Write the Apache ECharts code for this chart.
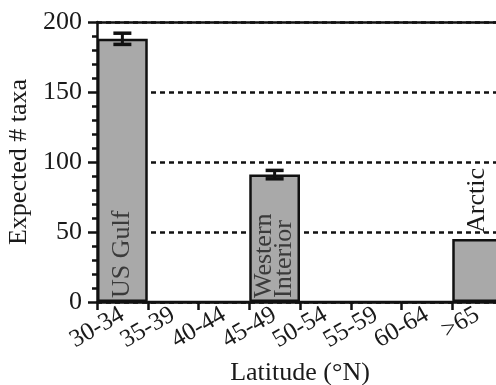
<!DOCTYPE html>
<html><head><meta charset="utf-8">
<script src="https://cdn.jsdelivr.net/npm/echarts@6/dist/echarts.min.js"></script>
<style>html,body{margin:0;padding:0;background:#fff}#c{width:496px;height:385px}</style>
</head><body><div id="c"></div>
<script>
const categories = ['30-34','35-39','40-44','45-49','50-54','55-59','60-64','>65'];
const values = [188,0,0,91,0,0,0,45];
const errors = [4,0,0,3,0,0,0,0];
const barLabels = ['US Gulf','','','Western\nInterior','','','','Arctic'];
const yTicks = [0,50,100,150,200];

const FONT = "'Liberation Serif','Times New Roman',serif";
const chart = echarts.init(document.getElementById('c'), null, {renderer:'canvas'});

const barData = values.map((v,i)=>{
  const d = {value:v};
  if (barLabels[i]) {
    const inside = v > 60;
    d.label = {
      show:true, formatter: barLabels[i], rotate:90,
      position: inside ? 'insideBottom' : 'top',
      distance: inside ? 4 : 6,
      align:'left', verticalAlign:'middle',
      fontFamily:FONT, fontSize:26, lineHeight:20,
      color: inside ? '#3a3a3a' : '#1a1a1a'
    };
  }
  return d;
});

const errData = values.map((v,i)=>[i, v, errors[i]]).filter(d=>d[2]>0);

chart.setOption({
  animation:false,
  grid:{left:97, top:22, bottom:83, right:-7, containLabel:false, outerBoundsMode:'none'},
  xAxis:[{
    type:'category', data:categories, boundaryGap:true,
    axisLine:{lineStyle:{color:'#111', width:2.5}},
    axisTick:{show:true, length:8, lineStyle:{color:'#111', width:2.5}},
    axisLabel:{rotate:30, margin:11, fontFamily:FONT, fontSize:25, color:'#1a1a1a', interval:0, padding:[0,0,0,0]},
    name:'Latitude (°N)', nameLocation:'middle', nameGap:58,
    nameTextStyle:{fontFamily:FONT, fontSize:26, color:'#1a1a1a'},
    splitLine:{show:false}
  },{
    type:'category', data:categories, position:'top',
    axisLine:{show:true, lineStyle:{color:'#111', width:2.5}},
    axisTick:{show:false}, axisLabel:{show:false}, splitLine:{show:false}
  }],
  yAxis:{
    type:'value', min:yTicks[0], max:yTicks[yTicks.length-1], interval:yTicks[1]-yTicks[0],
    axisLine:{show:true, lineStyle:{color:'#111', width:2.5}},
    axisTick:{show:true, length:9, lineStyle:{color:'#111', width:2.5}},
    minorTick:{show:true, splitNumber:5, length:5, lineStyle:{color:'#111', width:2.5}},
    axisLabel:{margin:15, fontFamily:FONT, fontSize:26, color:'#1a1a1a'},
    splitLine:{show:true, lineStyle:{color:'#111', width:2.5, type:[5,4]}},
    name:'Expected # taxa', nameLocation:'middle', nameGap:62,
    nameTextStyle:{fontFamily:FONT, fontSize:26, color:'#1a1a1a'}
  },
  series:[{
    type:'bar', data:barData, barWidth:'100%', barCategoryGap:'0%',
    itemStyle:{color:'#a9a9a9', borderColor:'#111', borderWidth:2.5},
    z:3
  },{
    type:'custom', data:errData, z:5,
    renderItem:function(params, api){
      const x = api.value(0), v = api.value(1), e = api.value(2);
      const top = api.coord([x, v+e]);
      const bot = api.coord([x, v-e]);
      const hw = 9;
      const st = {stroke:'#111', lineWidth:3.5};
      return {type:'group', children:[
        {type:'line', shape:{x1:top[0], y1:top[1], x2:bot[0], y2:bot[1]}, style:{stroke:'#111', lineWidth:3}},
        {type:'line', shape:{x1:top[0]-hw, y1:top[1], x2:top[0]+hw, y2:top[1]}, style:st},
        {type:'line', shape:{x1:bot[0]-hw, y1:bot[1], x2:bot[0]+hw, y2:bot[1]}, style:st}
      ]};
    }
  }]
});
</script></body></html>
